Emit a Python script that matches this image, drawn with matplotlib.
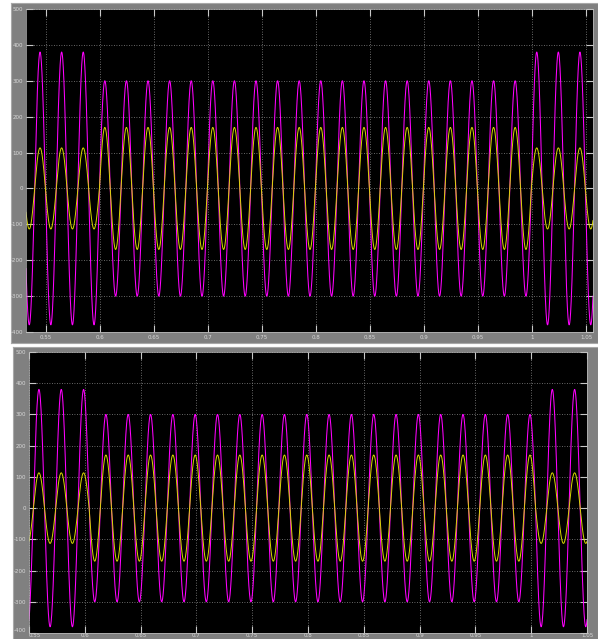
import numpy as np
import matplotlib
matplotlib.use("Agg")
import matplotlib.pyplot as plt

# signal description
freq = 50.0
magenta_amps = [380, 300, 380]       # before / between / after the switches
yellow_amps = [113, 170, 113]
top_peak_time = 0.5444               # time of a positive peak (top screen)
bottom_peak_time = 0.5589            # time of a positive peak (bottom screen)
top_switches = [0.5994, 0.9994]      # amplitude changes (at zero crossings)
bottom_switches = [0.6039, 1.0039]
top_xlim = [0.5314, 1.0565]
bottom_xlim = [0.55, 1.05]

x_ticks = [0.55, 0.6, 0.65, 0.7, 0.75, 0.8, 0.85, 0.9, 0.95, 1, 1.05]
x_labels = ["0.55", "0.6", "0.65", "0.7", "0.75", "0.8", "0.85", "0.9", "0.95", "1", "1.05"]
y_ticks = [-400, -300, -200, -100, 0, 100, 200, 300, 400, 500]
y_labels = ["-400", "-300", "-200", "-100", "0", "100", "200", "300", "400", "500"]

W, H = 598, 639


def wave(t, amps, peak_time, switches):
    a = np.where(t < switches[0], amps[0],
                 np.where(t < switches[1], amps[1], amps[2]))
    return a * np.cos(2 * np.pi * freq * (t - peak_time))


def px_rect(box):
    l, t, r, b = box
    return [l / W, 1 - b / H, (r - l) / W, (b - t) / H]


def scope(fig, frame_px, axes_px, xlim, peak_time, switches, xpad):
    # gray scope frame behind the plot
    frame = fig.add_axes(px_rect(frame_px), zorder=0)
    frame.set_facecolor("#808080")
    frame.set_xticks([])
    frame.set_yticks([])
    for s in frame.spines.values():
        s.set_color("#a8a8a8")
        s.set_linewidth(0.8)

    ax = fig.add_axes(px_rect(axes_px), zorder=1)
    ax.set_facecolor("black")

    t = np.linspace(xlim[0], xlim[1], 20000)
    ax.plot(t, wave(t, magenta_amps, peak_time, switches), color="#ff00ff", lw=0.75)
    ax.plot(t, wave(t, yellow_amps, peak_time, switches), color="#d8d800", lw=0.7)

    ax.set_xlim(xlim)
    ax.set_ylim(-400, 500)
    ax.set_xticks(x_ticks)
    ax.set_xticklabels(x_labels)
    ax.set_yticks(y_ticks)
    ax.set_yticklabels(y_labels)
    ax.grid(True, color="#8a8a8a", linestyle=(0, (1, 2)), linewidth=0.6)
    ax.tick_params(direction="in", length=5, width=0.8, color="#c8c8c8",
                   labelcolor="#d8d8d8", labelsize=4, pad=2,
                   top=True, right=True)
    ax.tick_params(axis="x", pad=xpad)
    for s in ax.spines.values():
        s.set_color("#c0c0c0")
        s.set_linewidth(0.5)
    return ax


fig = plt.figure(figsize=(W / 100, H / 100), dpi=100)
fig.patch.set_facecolor("white")

scope(fig, (11, 3, 598, 343), (26, 9, 593, 332), top_xlim, top_peak_time, top_switches, 2)
bot = scope(fig, (13, 347, 598, 645), (29, 352, 587, 633), bottom_xlim,
            bottom_peak_time, bottom_switches, 0.3)
# first label sits at the very left edge of the lower screen
bot.get_xticklabels()[0].set_horizontalalignment("left")
bot.get_yticklabels()[0].set_verticalalignment("bottom")

fig.savefig("out.png", dpi=100, facecolor=fig.get_facecolor())
